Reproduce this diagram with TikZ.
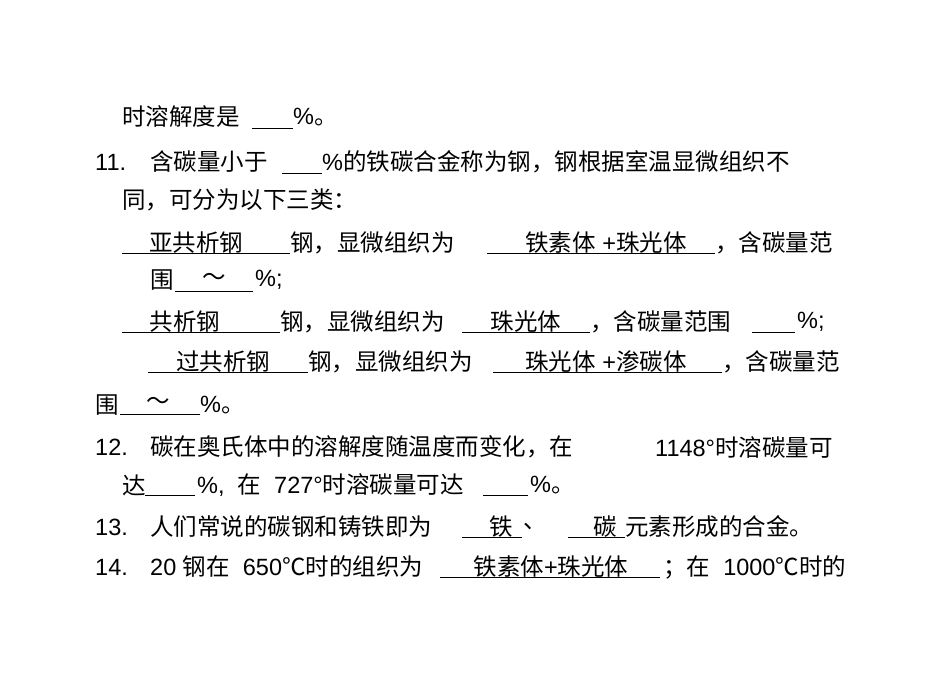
\documentclass[tikz,border=0pt]{standalone}
\usepackage{fontspec}
\setmainfont{Noto Sans CJK SC}
\newfontfamily\latinf{Liberation Sans}
\begin{document}
\begin{tikzpicture}[x=1pt,y=-1pt,
  t/.style={anchor=west,inner sep=0pt,font=\fontsize{23.5}{26}\selectfont},
  c/.style={inner sep=0pt,font=\fontsize{23.5}{26}\selectfont},
  ul/.style={line width=0.9pt}]
\useasboundingbox[fill=white] (0,0) rectangle (950,674);
% line 1
\node[t] (a1) at (122,117) {时溶解度是};
\draw[ul] (252,128) coordinate (u1a) -- (293,128) coordinate (u1b);
\node[t] (a2) at (293,117) {{\latinf\%}。};
% line 2
\node[t] (b0) at (95,162) {\latinf 11.};
\node[t] (b1) at (150,162) {含碳量小于};
\draw[ul] (282,173) coordinate (u2a) -- (322,173) coordinate (u2b);
\node[t] (b2) at (322,162) {{\latinf\%}的铁碳合金称为钢，钢根据室温显微组织不};
% line 3
\node[t] (c1) at (122,200) {同，可分为以下三类：};
% line 4
\draw[ul] (122,253) coordinate (u3a) -- (290,253) coordinate (u3b);
\node[c] (d1) at (196,243) {亚共析钢};
\node[t] (d2) at (290,243) {钢，显微组织为};
\draw[ul] (487,253) coordinate (u4a) -- (715,253) coordinate (u4b);
\node[c] (d3) at (606,243) {铁素体{\latinf\ +}珠光体};
\node[t] (d4) at (715,243) {，含碳量范};
% line 5
\node[t] (e1) at (150,280) {围};
\draw[ul] (175,291) coordinate (u5a) -- (253,291) coordinate (u5b);
\node[c] (e2) at (214,279) {～};
\node[t] (e3) at (255,280) {\latinf\%;};
% line 6
\draw[ul] (122,332) coordinate (u6a) -- (280,332) coordinate (u6b);
\node[c] (f1) at (185,322) {共析钢};
\node[t] (f2) at (280,322) {钢，显微组织为};
\draw[ul] (462,332) coordinate (u7a) -- (590,332) coordinate (u7b);
\node[c] (f3) at (526,322) {珠光体};
\node[t] (f4) at (590,322) {，含碳量范围};
\draw[ul] (752,332) coordinate (u8a) -- (795,332) coordinate (u8b);
\node[t] (f5) at (797,322) {\latinf\%;};
% line 7
\draw[ul] (148,372) coordinate (u9a) -- (308,372) coordinate (u9b);
\node[c] (g1) at (223,362) {过共析钢};
\node[t] (g2) at (308,362) {钢，显微组织为};
\draw[ul] (493,372) coordinate (u10a) -- (722,372) coordinate (u10b);
\node[c] (g3) at (606,362) {珠光体{\latinf\ +}渗碳体};
\node[t] (g4) at (722,362) {，含碳量范};
% line 8
\node[t] (h1) at (95,405) {围};
\draw[ul] (120,414) coordinate (u11a) -- (200,414) coordinate (u11b);
\node[c] (h2) at (158,403) {～};
\node[t] (h3) at (200,405) {{\latinf\%}。};
% line 9
\node[t] (i0) at (95,447) {\latinf 12.};
\node[t] (i1) at (150,447) {碳在奥氏体中的溶解度随温度而变化，在};
\node[t] (i2) at (655,447) {{\latinf 1148°}时溶碳量可};
% line 10
\node[t] (j1) at (122,485) {达};
\draw[ul] (145,495) coordinate (u12a) -- (195,495) coordinate (u12b);
\node[t] (j2) at (197,485) {{\latinf\%,\ \ }在{\latinf\ \ 727°}时溶碳量可达};
\draw[ul] (483,495) coordinate (u13a) -- (528,495) coordinate (u13b);
\node[t] (j3) at (530,485) {{\latinf\%}。};
% line 11
\node[t] (k0) at (95,527) {\latinf 13.};
\node[t] (k1) at (150,527) {人们常说的碳钢和铸铁即为};
\draw[ul] (462,537) coordinate (u14a) -- (522,537) coordinate (u14b);
\node[c] (k2) at (501,527) {铁};
\node[t] (k3) at (523,527) {、};
\draw[ul] (568,537) coordinate (u15a) -- (625,537) coordinate (u15b);
\node[c] (k4) at (605,527) {碳};
\node[t] (k5) at (625,527) {元素形成的合金。};
% line 12
\node[t] (l0) at (95,567) {\latinf 14.};
\node[t] (l1) at (150,567) {{\latinf 20 }钢在{\latinf\ \ 650}℃时的组织为};
\draw[ul] (440,577) coordinate (u16a) -- (660,577) coordinate (u16b);
\node[c] (l2) at (551,567) {铁素体{\latinf +}珠光体};
\node[t] (l3) at (663,567) {；在{\latinf\ \ 1000}℃时的};
\end{tikzpicture}
\end{document}
